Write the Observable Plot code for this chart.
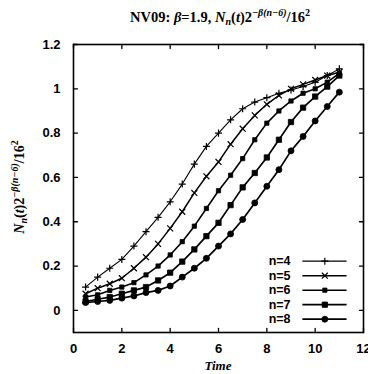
<!DOCTYPE html>
<html><head><meta charset="utf-8">
<script src="https://cdn.jsdelivr.net/npm/d3@7"></script>
<script src="https://cdn.jsdelivr.net/npm/@observablehq/plot@0.6"></script>
<style>body{margin:0;background:#fff}</style>
</head><body><div id="chart"></div>
<script>
const times = [0.5,1,1.5,2,2.5,3,3.5,4,4.5,5,5.5,6,6.5,7,7.5,8,8.5,9,9.5,10,10.5,11];
const n4 = [0.105,0.15,0.19,0.23,0.29,0.355,0.42,0.49,0.57,0.66,0.74,0.80,0.86,0.91,0.94,0.96,0.98,0.995,1.01,1.03,1.06,1.09];
const n5 = [0.075,0.10,0.12,0.145,0.19,0.24,0.30,0.37,0.445,0.53,0.605,0.67,0.75,0.82,0.88,0.93,0.97,1.0,1.02,1.04,1.06,1.075];
const n6 = [0.06,0.07,0.09,0.105,0.125,0.16,0.20,0.25,0.31,0.38,0.46,0.54,0.61,0.685,0.77,0.845,0.90,0.945,0.98,1.0,1.03,1.07];
const n7 = [0.04,0.05,0.06,0.075,0.09,0.105,0.135,0.17,0.22,0.275,0.335,0.395,0.475,0.555,0.62,0.69,0.77,0.85,0.915,0.965,1.01,1.06];
const n8 = [0.035,0.04,0.045,0.055,0.065,0.08,0.09,0.11,0.15,0.19,0.235,0.29,0.345,0.41,0.485,0.56,0.635,0.72,0.785,0.855,0.92,0.985];
const seriesNames = ["n=4","n=5","n=6","n=7","n=8"];
const xTicks = [0,2,4,6,8,10,12];
const yTicks = [0,0.2,0.4,0.6,0.8,1,1.2];

const seriesVals = [n4,n5,n6,n7,n8];
const symbols = ["plus","times","square","square","circle"];
const sizes = [2.4,2.8,2.4,3,3];
const widths = [1.1,1.5,1.6,1.7,1.7];

const tickShape = {draw(context, l) { context.moveTo(0, 0); context.lineTo(0, -l); }};
const marks = [];
const tickFont = {fontWeight:"bold", fontSize:13, fontFamily:"Liberation Sans, Arial, sans-serif"};
marks.push(Plot.axisX({anchor:"bottom", ticks:xTicks, tickSize:0, tickPadding:11, label:null, tickFormat:d=>String(d), ...tickFont}));
marks.push(Plot.axisY({anchor:"left", ticks:yTicks, tickSize:0, tickPadding:13, label:null, tickFormat:d=>String(d), ...tickFont}));
// inward ticks on all four sides
marks.push(Plot.vector(xTicks, {x:d=>d, frameAnchor:"bottom", length:4, rotate:0, anchor:"start", shape:tickShape, stroke:"black", strokeWidth:1.3}));
marks.push(Plot.vector(xTicks, {x:d=>d, frameAnchor:"top", length:4, rotate:180, anchor:"start", shape:tickShape, stroke:"black", strokeWidth:1.3}));
marks.push(Plot.vector(yTicks, {y:d=>d, frameAnchor:"left", length:4, rotate:90, anchor:"start", shape:tickShape, stroke:"black", strokeWidth:1.3}));
marks.push(Plot.vector(yTicks, {y:d=>d, frameAnchor:"right", length:4, rotate:270, anchor:"start", shape:tickShape, stroke:"black", strokeWidth:1.3}));
marks.push(Plot.frame({stroke:"black", strokeWidth:1.6}));

seriesVals.forEach((vals,i)=>{
  const d = vals.map((v,j)=>({t:times[j], v}));
  marks.push(Plot.line(d, {x:"t", y:"v", stroke:"black", strokeWidth:widths[i]}));
  const stroked = symbols[i]==="plus"||symbols[i]==="times";
  marks.push(Plot.dot(d, {x:"t", y:"v", symbol:symbols[i], r:sizes[i],
    fill: stroked ? "none" : "black", stroke:"black", strokeWidth: stroked ? 1.2 : 0.8}));
});

// legend
const legendRows = seriesNames.map((s,i)=>({s, i}));
const rowY = d => 0.222 - d.i*0.0655;
marks.push(Plot.text(legendRows, {x:8.98, y:rowY, text:"s", textAnchor:"end", fontWeight:"bold", fontSize:12.5, fontFamily:"Liberation Sans, Arial, sans-serif"}));
legendRows.forEach((row,i)=>{
  marks.push(Plot.link([row], {x1:9.47, x2:11.3, y1:rowY, y2:rowY, stroke:"black", strokeWidth:widths[i]}));
  const stroked = symbols[i]==="plus"||symbols[i]==="times";
  marks.push(Plot.dot([row], {x:10.4, y:rowY, symbol:symbols[i], r:sizes[i],
    fill: stroked ? "none" : "black", stroke:"black", strokeWidth: stroked ? 1.2 : 0.8}));
});

const chart = Plot.plot({
  width:368, height:374,
  marginLeft:73, marginRight:5, marginTop:44, marginBottom:42,
  x:{domain:[0,12]},
  y:{domain:[-0.1,1.2]},
  style:{background:"#fff", color:"black", overflow:"visible"},
  marks
});
document.getElementById("chart").appendChild(chart);

const svg = d3.select(chart);
const serif = "Liberation Serif, Times New Roman, serif";
// title
const title = svg.append("text").attr("x",220).attr("y",22).attr("text-anchor","middle")
  .attr("font-family",serif).attr("font-weight","bold").attr("font-size",14.5).attr("fill","black");
title.append("tspan").text("NV09: ");
title.append("tspan").attr("font-style","italic").text("β");
title.append("tspan").text("=1.9, ");
title.append("tspan").attr("font-style","italic").text("N");
title.append("tspan").attr("font-style","italic").attr("font-size",10).attr("dy",3).text("n");
title.append("tspan").attr("dy",-3).text("(");
title.append("tspan").attr("font-style","italic").text("t");
title.append("tspan").text(")2");
title.append("tspan").attr("font-size",10).attr("dy",-6).attr("font-style","italic").text("−β(n−6)");
title.append("tspan").attr("dy",6).text("/16");
title.append("tspan").attr("font-size",10).attr("dy",-6).text("2");

// y label
const yl = svg.append("text").attr("transform","translate(24,187) rotate(-90)").attr("text-anchor","middle")
  .attr("font-family",serif).attr("font-weight","bold").attr("font-size",14).attr("fill","black");
yl.append("tspan").attr("font-style","italic").text("N");
yl.append("tspan").attr("font-style","italic").attr("font-size",10).attr("dy",3).text("n");
yl.append("tspan").attr("dy",-3).text("(");
yl.append("tspan").attr("font-style","italic").text("t");
yl.append("tspan").text(")2");
yl.append("tspan").attr("font-size",10).attr("dy",-6).attr("font-style","italic").text("−β(n−6)");
yl.append("tspan").attr("dy",6).text("/16");
yl.append("tspan").attr("font-size",10).attr("dy",-6).text("2");

// x label
svg.append("text").attr("x",218).attr("y",370).attr("text-anchor","middle")
  .attr("font-family",serif).attr("font-weight","bold").attr("font-style","italic").attr("font-size",13).attr("fill","black").text("Time");
</script>
</body></html>
